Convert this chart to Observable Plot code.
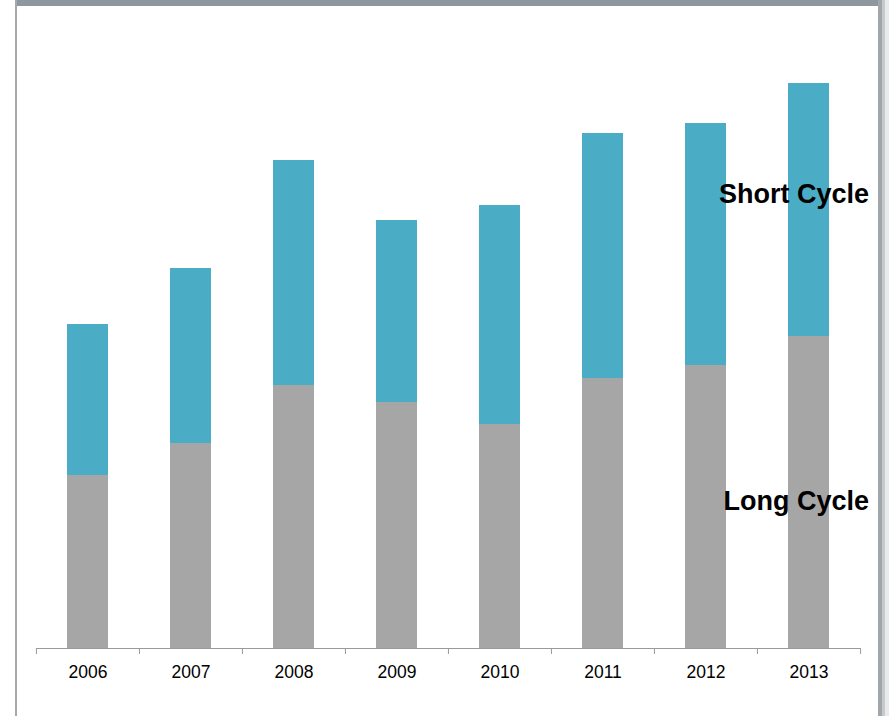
<!DOCTYPE html>
<html>
<head>
<meta charset="utf-8">
<script src="https://cdn.jsdelivr.net/npm/d3@7"></script>
<script src="https://cdn.jsdelivr.net/npm/@observablehq/plot@0.6"></script>
<style>
  html, body { margin: 0; padding: 0; background: #fff; }
  #wrap { position: relative; width: 889px; height: 716px; overflow: hidden; background: #fff; }
  #chart { position: absolute; left: 0; top: 0; }
  .fr { position: absolute; pointer-events: none; }
</style>
</head>
<body>
<div id="wrap">
  <div id="chart"></div>
  <div class="fr" style="left:15px;top:0;width:874px;height:6px;background:#8d979d;"></div>
  <div class="fr" style="left:15px;top:0;width:2px;height:716px;background:#a2aab0;"></div>
  <div class="fr" style="left:878px;top:0;width:4px;height:716px;background:#a0a6aa;"></div>
  <div class="fr" style="left:882px;top:0;width:3px;height:716px;background:#c6cacd;"></div>
  <div class="fr" style="left:885px;top:0;width:4px;height:716px;background:#e8eaeb;"></div>
</div>
<script>
// Data (arbitrary units; no value axis shown)
const years = ["2006", "2007", "2008", "2009", "2010", "2011", "2012", "2013"];
const longCycle  = [173, 205, 263, 246, 224, 270, 283, 312];
const shortCycle = [151, 175, 225, 182, 219, 245, 242, 253];
const seriesNames = ["Long Cycle", "Short Cycle"];
const seriesColors = ["#a6a6a6", "#4bacc6"];
const labelY = [147, 454];

const rows = [];
years.forEach((y, i) => {
  rows.push({year: y, series: "Long Cycle", value: longCycle[i]});
  rows.push({year: y, series: "Short Cycle", value: shortCycle[i]});
});
const labels = seriesNames.map((s, i) => ({year: years[years.length - 1], series: s, y: labelY[i]}));

const W = 889, H = 716, ML = 36, MR = 28, MT = 48, MB = 68;
const step = (W - ML - MR) / years.length;

const chart = Plot.plot({
  width: W,
  height: H,
  marginLeft: ML,
  marginRight: MR,
  marginTop: MT,
  marginBottom: MB,
  style: {fontFamily: "'Liberation Sans', Arial, sans-serif", background: "transparent"},
  x: {domain: years, paddingInner: 0.6, paddingOuter: 0.3, label: null, tickSize: 0, tickPadding: 18},
  y: {domain: [0, 600], axis: null},
  color: {domain: seriesNames, range: seriesColors},
  marks: [
    Plot.barY(rows, {x: "year", y: "value", fill: "series", order: seriesNames}),
    Plot.ruleY([0], {stroke: "#9a9a9a", strokeWidth: 1}),
    Plot.ruleX(years, {x: d => d, dx: -step / 2, y1: 0, y2: -6, stroke: "#9a9a9a"}),
    Plot.ruleX(years.slice(-1), {x: d => d, dx: step / 2, y1: 0, y2: -6, stroke: "#9a9a9a"}),
    Plot.axisX({tickSize: 0, tickPadding: 17, fontSize: 17.5, fill: "#000", label: null}),
    Plot.text(labels, {x: "year", y: "y", text: "series", textAnchor: "end", dx: 60, fontSize: 27, fontWeight: "bold", fill: "#000"})
  ]
});
document.getElementById("chart").appendChild(chart);
</script>
</body>
</html>
